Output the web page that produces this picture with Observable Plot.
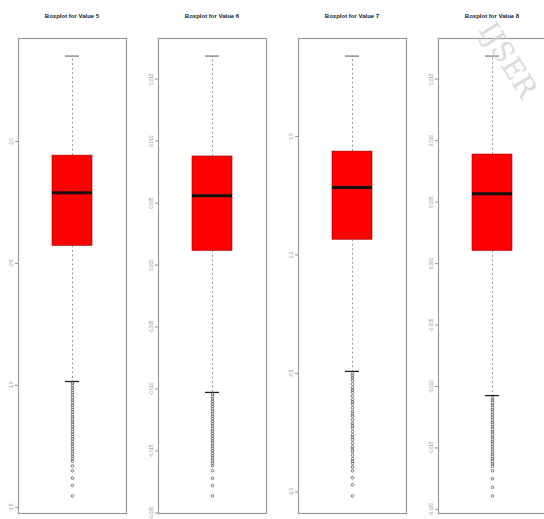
<!DOCTYPE html>
<html><head><meta charset="utf-8">
<script src="https://cdn.jsdelivr.net/npm/d3@7"></script>
<script src="https://cdn.jsdelivr.net/npm/@observablehq/plot@0.6"></script>
<style>
body{margin:0;background:#fff;}
#wrap{position:relative;width:544px;height:519px;overflow:hidden;font-family:"Liberation Sans Narrow","Liberation Sans",sans-serif;background:#fff;}
.panel{position:absolute;top:0;width:140px;height:519px;}
.title{position:absolute;top:13px;left:0;width:144px;text-align:center;font-size:6px;font-weight:bold;color:#222;}
.plotbox{position:absolute;top:30px;left:0;}
#wm{position:absolute;left:500px;top:16px;font-family:"DejaVu Serif",serif;font-size:28px;color:#cfcfcf;opacity:0.75;transform:rotate(58deg);transform-origin:left top;white-space:nowrap;pointer-events:none;}
</style></head>
<body>
<div id="wrap"></div>
<script>
const titles = ["Boxplot for Value 5", "Boxplot for Value 6", "Boxplot for Value 7", "Boxplot for Value 8"];
const positions = [1, 1, 1, 1];
const upperWhisker = [0.350, 0.01686, 0.839, 0.01688];
const q3 = [-0.058, 0.00876, 0.436, 0.00887];
const median = [-0.210, 0.0056, 0.284, 0.00569];
const q1 = [-0.428, 0.00114, 0.064, 0.00103];
const lowerWhisker = [-0.984, -0.01028, -0.4915, -0.01074];

const outliers5 = [-0.99,-1.00,-1.01,-1.02,-1.03,-1.04,-1.05,-1.06,-1.07,-1.08,-1.09,-1.10,-1.11,-1.12,-1.13,-1.14,-1.15,-1.16,-1.17,-1.18,-1.19,-1.20,-1.21,-1.22,-1.23,-1.24,-1.25,-1.26,-1.27,-1.28,-1.29,-1.30,-1.31,-1.33,-1.35,-1.38,-1.41,-1.453];
const outliers6 = [-0.0104,-0.0106,-0.0108,-0.0110,-0.0112,-0.0114,-0.0116,-0.0118,-0.0120,-0.0122,-0.0124,-0.0126,-0.0128,-0.0130,-0.0132,-0.0134,-0.0136,-0.0138,-0.0140,-0.0142,-0.0144,-0.0146,-0.0148,-0.0150,-0.0152,-0.0154,-0.0156,-0.0158,-0.0160,-0.0162,-0.0166,-0.0172,-0.0178,-0.01863];
const outliers7 = [-0.50,-0.51,-0.52,-0.53,-0.545,-0.56,-0.57,-0.58,-0.595,-0.61,-0.62,-0.63,-0.645,-0.66,-0.67,-0.68,-0.695,-0.71,-0.72,-0.73,-0.745,-0.76,-0.77,-0.78,-0.795,-0.81,-0.82,-0.83,-0.845,-0.86,-0.87,-0.88,-0.895,-0.911,-0.94,-0.97,-1.017];
const outliers8 = [-0.0109,-0.0111,-0.0113,-0.0115,-0.0117,-0.0119,-0.0121,-0.0123,-0.0125,-0.0127,-0.0129,-0.0131,-0.0133,-0.0135,-0.0137,-0.0139,-0.0141,-0.0143,-0.0145,-0.0147,-0.0149,-0.0151,-0.0153,-0.0155,-0.0157,-0.0159,-0.0161,-0.0163,-0.0165,-0.01686,-0.0175,-0.0182,-0.0189];
const outliers = [outliers5, outliers6, outliers7, outliers8];

const ticks = [
  [0.0, -0.5, -1.0, -1.5],
  [0.015, 0.010, 0.005, 0.000, -0.005, -0.010, -0.015, -0.020],
  [0.5, 0.0, -0.5, -1.0],
  [0.015, 0.010, 0.005, 0.000, -0.005, -0.010, -0.015, -0.020]
];
const tickDigits = [1, 3, 1, 3];

const wrap = document.getElementById("wrap");

titles.forEach((t, i) => {
  const row = {pos: positions[i], upper: upperWhisker[i], q3: q3[i], median: median[i], q1: q1[i], lower: lowerWhisker[i]};
  const outs = outliers[i].map(v => ({pos: positions[i], v}));
  const lo = Math.min(row.lower, ...outliers[i]);
  const hi = row.upper;
  const pad = (hi - lo) * 0.04;
  const panel = document.createElement("div");
  panel.className = "panel";
  panel.style.left = (140 * i) + "px";
  const title = document.createElement("div");
  title.className = "title";
  title.textContent = t;
  panel.appendChild(title);
  const box = document.createElement("div");
  box.className = "plotbox";
  const plot = Plot.plot({
    width: 140,
    height: 489,
    marginTop: 8,
    marginBottom: 6,
    marginLeft: 18,
    marginRight: 14,
    style: {background: "transparent", fontFamily: "Liberation Sans, sans-serif"},
    x: {domain: [0.46, 1.54], axis: null},
    y: {domain: [lo - pad, hi + pad], axis: null},
    marks: [
      Plot.frame({stroke: "#999", strokeWidth: 1.2}),
      Plot.axisY({ticks: ticks[i], tickSize: 3, tickRotate: -90, fontSize: 4.5, stroke: "#999", fill: "#888", tickPadding: 3, tickFormat: d => d.toFixed(tickDigits[i])}),
      Plot.ruleX([row], {x: "pos", y1: "q3", y2: "upper", stroke: "#999", strokeDasharray: "2,2.5"}),
      Plot.ruleX([row], {x: "pos", y1: "q1", y2: "lower", stroke: "#999", strokeDasharray: "2,2.5"}),
      Plot.ruleY([row], {y: "upper", x1: d => d.pos - 0.07, x2: d => d.pos + 0.07, stroke: "#777", strokeWidth: 1.2}),
      Plot.ruleY([row], {y: "lower", x1: d => d.pos - 0.07, x2: d => d.pos + 0.07, stroke: "#222", strokeWidth: 1.3}),
      Plot.rect([row], {x1: d => d.pos - 0.2, x2: d => d.pos + 0.2, y1: "q1", y2: "q3", fill: "#ff0000", stroke: "#990000", strokeWidth: 0.6}),
      Plot.ruleY([row], {y: "median", x1: d => d.pos - 0.2, x2: d => d.pos + 0.2, stroke: "#111", strokeWidth: 3}),
      Plot.dot(outs, {x: "pos", y: "v", r: 1.3, stroke: "#444", strokeWidth: 0.7, fill: "none"})
    ]
  });
  box.appendChild(plot);
  panel.appendChild(box);
  wrap.appendChild(panel);
});

const wm = document.createElement("div");
wm.id = "wm";
wm.textContent = "IJSER";
wrap.appendChild(wm);
</script>
</body></html>
